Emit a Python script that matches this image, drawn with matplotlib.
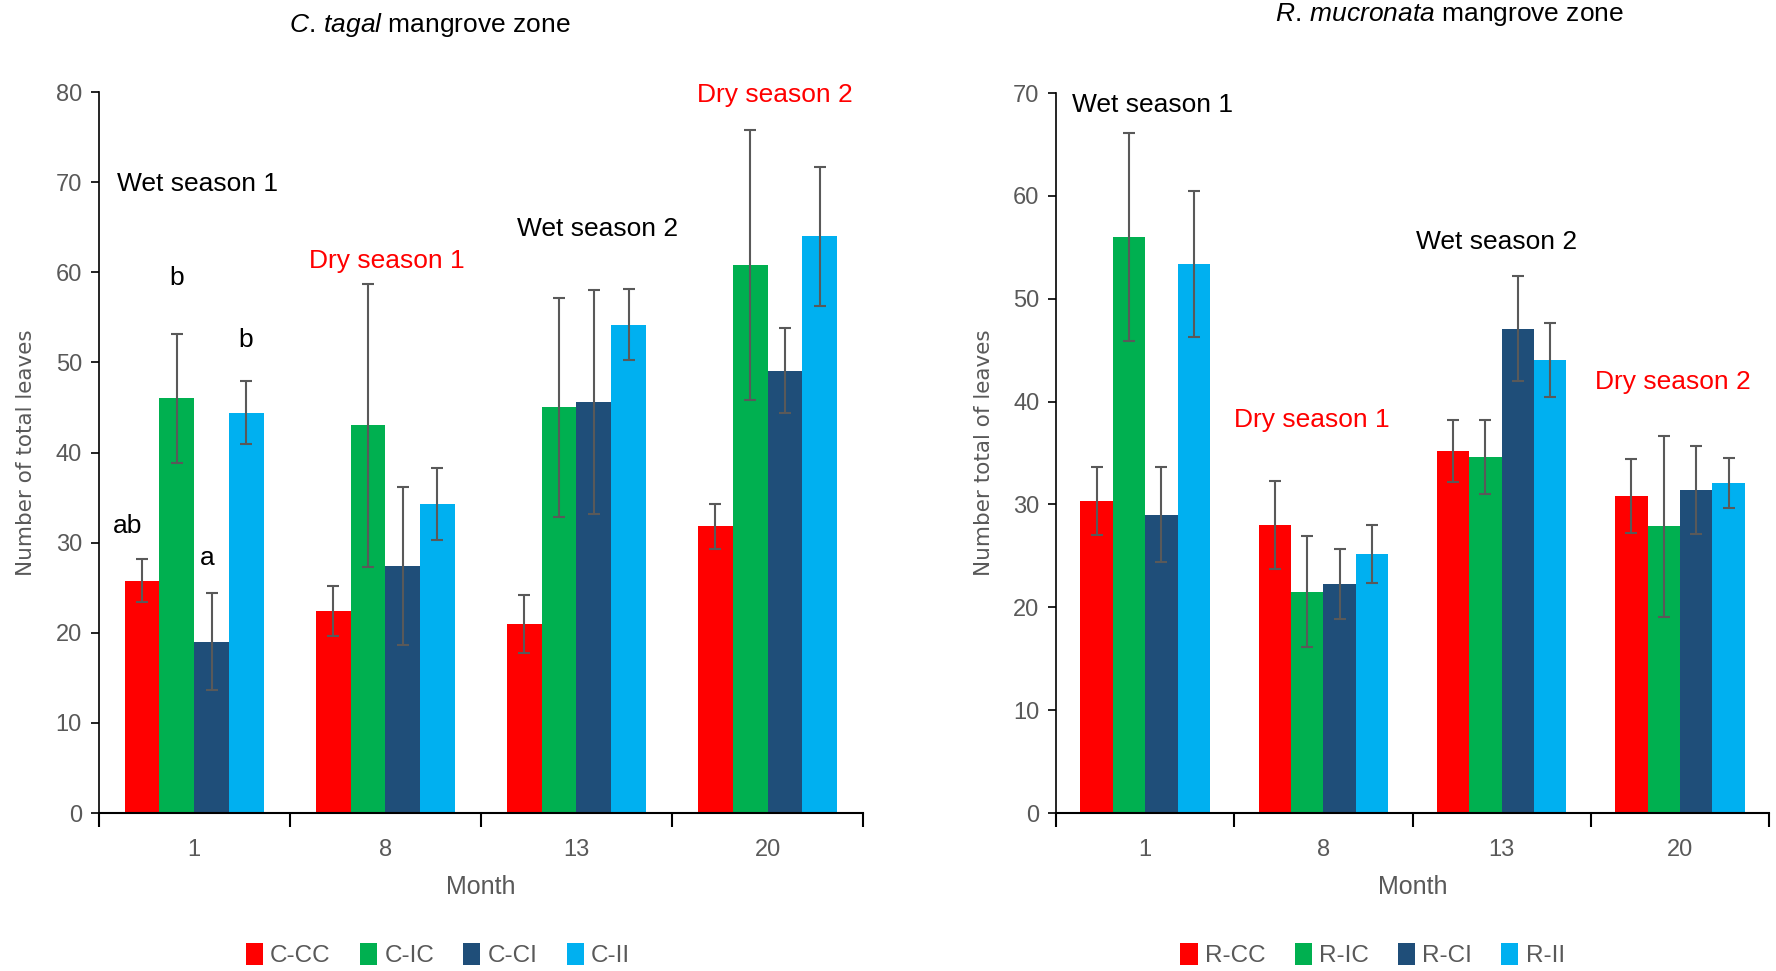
import numpy as np
import matplotlib
matplotlib.use("Agg")
import matplotlib.pyplot as plt
from matplotlib import font_manager

# fonts: narrow sans for Calibri-looking text
names = {f.name for f in font_manager.fontManager.ttflist}
narrow = 'Liberation Sans Narrow' if 'Liberation Sans Narrow' in names else 'Liberation Sans'
plt.rcParams['font.family'] = [narrow, 'DejaVu Sans']
plt.rcParams['mathtext.fontset'] = 'custom'
plt.rcParams['mathtext.rm'] = narrow
plt.rcParams['mathtext.it'] = narrow + ':italic'

# data
months = ['1', '8', '13', '20']
colors = ['#FF0000', '#00B050', '#1F4E79', '#00B0F0']

c_labels = ['C-CC', 'C-IC', 'C-CI', 'C-II']
c_cc = [25.8, 22.4, 21.0, 31.8]
c_ic = [46.0, 43.0, 45.0, 60.8]
c_ci = [19.0, 27.4, 45.6, 49.1]
c_ii = [44.4, 34.3, 54.2, 64.0]
c_cc_err = [2.4, 2.8, 3.2, 2.5]
c_ic_err = [7.2, 15.7, 12.2, 15.0]
c_ci_err = [5.4, 8.8, 12.4, 4.7]
c_ii_err = [3.5, 4.0, 3.9, 7.7]

r_labels = ['R-CC', 'R-IC', 'R-CI', 'R-II']
r_cc = [30.3, 28.0, 35.2, 30.8]
r_ic = [56.0, 21.5, 34.6, 27.9]
r_ci = [29.0, 22.3, 47.1, 31.4]
r_ii = [53.4, 25.2, 44.0, 32.1]
r_cc_err = [3.3, 4.3, 3.0, 3.6]
r_ic_err = [10.1, 5.4, 3.6, 8.8]
r_ci_err = [4.6, 3.4, 5.1, 4.3]
r_ii_err = [7.1, 2.8, 3.6, 2.4]

# annotations: (text, x, y, color, ha)
c_notes = [('Wet season 1', -0.405, 69.8, 'black', 'left'),
           ('b', -0.09, 59.4, 'black', 'center'),
           ('b', 0.27, 52.5, 'black', 'center'),
           ('ab', -0.35, 31.9, 'black', 'center'),
           ('a', 0.07, 28.3, 'black', 'center'),
           ('Dry season 1', 1.01, 61.2, 'red', 'center'),
           ('Wet season 2', 2.11, 64.8, 'black', 'center'),
           ('Dry season 2', 3.04, 79.7, 'red', 'center')]
r_notes = [('Wet season 1', 0.04, 68.8, 'black', 'center'),
           ('Wet season 2', 1.97, 55.5, 'black', 'center'),
           ('Dry season 1', 0.935, 38.2, 'red', 'center'),
           ('Dry season 2', 2.96, 41.9, 'red', 'center')]

gray = '#595959'
bw = 1 / 5.5


def draw(ax, series, errs, labels, ymax, ylabel, notes):
    x = np.arange(len(months))
    for i, (vals, err, lab, col) in enumerate(zip(series, errs, labels, colors)):
        pos = x + (i - 1.5) * bw
        ax.bar(pos, vals, bw, color=col, label=lab, zorder=2)
        ax.errorbar(pos, vals, yerr=err, fmt='none', ecolor=gray, elinewidth=1.5,
                    capsize=4, capthick=1.5, zorder=3)
    ax.set_xlim(-0.5, 3.5)
    ax.set_ylim(0, ymax)
    ax.set_yticks(np.arange(0, ymax + 1, 10))
    ax.set_xticks(np.arange(-0.5, 4, 1))
    ax.set_xticklabels([])
    ax.set_xticks(x, minor=True)
    ax.set_xticklabels(months, minor=True)
    ax.tick_params(axis='x', which='major', length=10, width=1.5, direction='out')
    ax.tick_params(axis='x', which='minor', length=0, pad=19, labelsize=17, labelcolor=gray)
    ax.tick_params(axis='y', length=6, width=1.2, labelsize=17, labelcolor=gray, pad=6)
    for s in ['top', 'right']:
        ax.spines[s].set_visible(False)
    ax.spines['left'].set_linewidth(1.2)
    ax.spines['bottom'].set_linewidth(1.5)
    ax.set_xlabel('Month', fontsize=18, color=gray, labelpad=10)
    ax.set_ylabel(ylabel, fontsize=15.5, color=gray, family='DejaVu Sans', labelpad=14)
    for txt, tx, ty, tc, ha in notes:
        ax.text(tx, ty, txt, color=tc, fontsize=19, ha=ha, va='center')
    ax.legend(loc='center', bbox_to_anchor=(0.444, -0.197), ncol=4, frameon=False,
              fontsize=17.5, handlelength=0.7, handleheight=1.0, handletextpad=0.3,
              columnspacing=1.2, labelcolor=gray)


fig = plt.figure(figsize=(17.76, 9.71), dpi=100)
ax1 = fig.add_axes([0.0555, 0.1627, 0.4305, 0.7425])
ax2 = fig.add_axes([0.5946, 0.1627, 0.4015, 0.7415])

draw(ax1, [c_cc, c_ic, c_ci, c_ii], [c_cc_err, c_ic_err, c_ci_err, c_ii_err],
     c_labels, 80, 'Number of total leaves', c_notes)
draw(ax2, [r_cc, r_ic, r_ci, r_ii], [r_cc_err, r_ic_err, r_ci_err, r_ii_err],
     r_labels, 70, 'Number total of leaves', r_notes)

fig.text(0.242, 0.974, r'$\mathit{C.\,tagal}$ mangrove zone', fontsize=19, ha='center', va='center')
fig.text(0.816, 0.985, r'$\mathit{R.\,mucronata}$ mangrove zone', fontsize=19, ha='center', va='center')

fig.savefig('out.png', dpi=100)
